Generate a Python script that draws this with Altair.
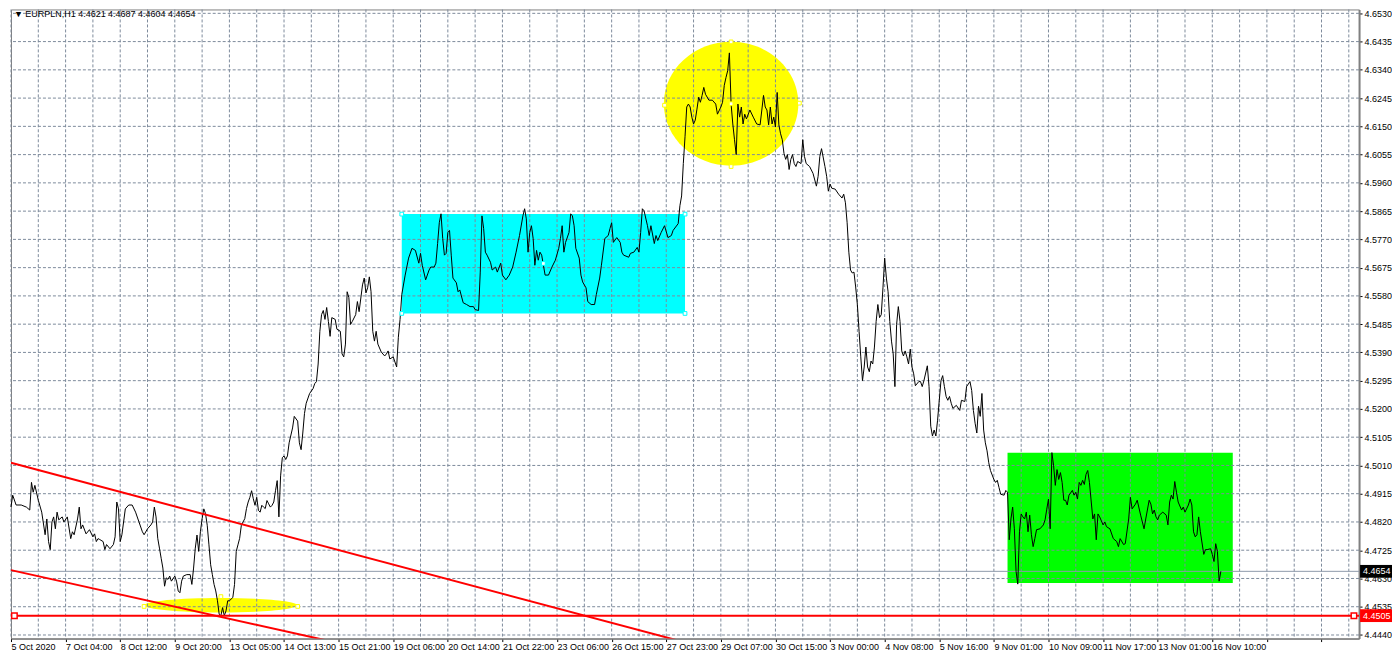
import altair as alt
import pandas as pd

# ---------------- data ----------------
bars = [0, 1, 3, 6, 9, 11, 12, 13, 14, 16, 18, 20, 21, 22, 23, 24, 25, 26, 27, 28, 30, 31, 33, 35, 36, 37, 39, 40,
        41, 42, 44, 46, 48, 49, 50, 51, 52, 54, 55, 56, 58, 60, 61, 62, 63, 64, 65, 67, 69, 71, 73, 75, 77, 78, 80,
        82, 83, 84, 85, 86, 87, 88, 89, 90, 91, 92, 93, 94, 96, 97, 98, 99, 100, 101, 103, 105, 106, 107, 108, 109,
        110, 111, 112, 113, 114, 115, 116, 117, 118, 119, 120, 121, 122, 123, 124, 125, 126, 127, 128, 130, 131,
        132, 133, 134, 135, 136, 137, 138, 139, 140, 141, 142, 143, 144, 145, 146, 147, 148, 149, 150, 151, 152,
        153, 154, 155, 156, 157, 158, 159, 160, 161, 162, 163, 165, 166, 168, 169, 170, 171, 172, 173, 175, 177,
        178, 179, 180, 181, 182, 183, 184, 185, 186, 187, 188, 190, 191, 193, 194, 195, 196, 197, 198, 199, 200,
        202, 203, 204, 206, 207, 208, 209, 210, 211, 212, 213, 214, 215, 217, 219, 220, 221, 222, 224, 226, 227,
        228, 229, 231, 233, 235, 237, 239, 240, 241, 243, 245, 246, 248, 249, 250, 251, 252, 253, 254, 255, 256,
        257, 258, 259, 261, 262, 263, 265, 267, 269, 271, 272, 274, 275, 276, 277, 278, 279, 281, 282, 284, 285,
        287, 288, 290, 292, 294, 296, 298, 300, 301, 302, 303, 304, 305, 306, 307, 308, 309, 310, 311, 313, 315,
        317, 319, 321, 322, 323, 324, 325, 327, 328, 329, 330, 331, 333, 334, 335, 337, 338, 340, 342, 343, 345,
        346, 348, 350, 351, 352, 353, 355, 357, 358, 359, 362, 363, 365, 367, 368, 369, 370, 371, 373, 374, 375,
        377, 378, 379, 381, 383, 385, 387, 388, 391, 392, 393, 394, 395, 396, 397, 398, 399, 400, 401, 402, 403,
        404, 405, 406, 407, 409, 411, 413, 414, 416, 417, 418, 419, 420, 421, 422, 423, 424, 425, 426, 427, 428,
        429, 430, 431, 433, 435, 437, 439, 441, 442, 443, 444, 445, 446, 447, 448, 449, 450, 451, 452, 453, 454,
        455, 456, 457, 458, 459, 460, 461, 463, 464, 465, 466, 468, 470, 472, 473, 474, 475, 477, 478, 479, 480,
        481, 483, 485, 487, 488, 489, 490, 491, 492, 493, 494, 495, 496, 497, 498, 499, 500, 501, 502, 503, 504,
        505, 506, 507, 508, 509, 510, 511, 512, 513, 514, 515, 516, 517, 518, 519, 520, 521, 522, 523, 524, 525,
        526, 527, 528, 529, 530, 532, 533, 534, 535, 537, 538, 539, 540, 541, 542, 543, 544, 545, 546, 547, 548,
        549, 550, 551, 552, 554, 556, 557, 559, 560, 562, 563, 564, 565, 566, 567, 568, 569, 570, 571, 572, 573,
        574, 576, 577, 578, 579, 580, 582, 583, 584, 585, 586, 587, 588, 589, 590, 591, 592, 593, 594, 595, 596,
        597, 598, 599, 600, 601, 603, 605, 606, 607, 608, 609, 610, 611, 612, 613, 614, 615, 616, 617, 618, 619,
        620, 622, 623, 624, 625, 626, 627, 628, 629, 630, 631, 632, 634, 635, 636, 637, 638, 640, 641, 642, 644,
        646, 648, 649, 650, 652, 653, 655, 656, 657, 659, 660, 662, 664, 665, 667, 668, 669, 670, 671, 672, 673,
        675, 677, 678, 679, 680, 681, 682, 683, 684, 686, 687, 688, 690, 691, 692, 693, 694, 695, 696, 697, 699,
        700, 701, 703, 704, 705, 706, 707, 708, 709]

prices = [4.4870, 4.4910, 4.4877, 4.4877, 4.4870, 4.4860, 4.4953, 4.4920, 4.4943, 4.4893, 4.4853, 4.4777, 4.4830,
          4.4754, 4.4727, 4.4820, 4.4837, 4.4797, 4.4853, 4.4827, 4.4837, 4.4820, 4.4837, 4.4764, 4.4787, 4.4777,
          4.4830, 4.4870, 4.4797, 4.4810, 4.4780, 4.4794, 4.4770, 4.4780, 4.4754, 4.4764, 4.4761, 4.4754, 4.4727,
          4.4744, 4.4730, 4.4744, 4.4770, 4.4887, 4.4864, 4.4754, 4.4777, 4.4864, 4.4877, 4.4877, 4.4853, 4.4820,
          4.4787, 4.4777, 4.4797, 4.4810, 4.4820, 4.4870, 4.4837, 4.4765, 4.4732, 4.4698, 4.4665, 4.4604, 4.4632,
          4.4627, 4.4638, 4.4621, 4.4638, 4.4621, 4.4588, 4.4582, 4.4621, 4.4638, 4.4643, 4.4643, 4.4610, 4.4665,
          4.4732, 4.4776, 4.4721, 4.4787, 4.4831, 4.4864, 4.4848, 4.4809, 4.4743, 4.4676, 4.4643, 4.4610, 4.4588,
          4.4555, 4.4510, 4.4505, 4.4532, 4.4505, 4.4521, 4.4555, 4.4555, 4.4566, 4.4610, 4.4721, 4.4743, 4.4765,
          4.4809, 4.4820, 4.4831, 4.4865, 4.4887, 4.4903, 4.4925, 4.4898, 4.4876, 4.4903, 4.4859, 4.4853, 4.4876,
          4.4870, 4.4865, 4.4892, 4.4881, 4.4870, 4.4876, 4.4887, 4.4925, 4.4959, 4.4837, 4.4975, 4.5036, 4.5042,
          4.5030, 4.5042, 4.5086, 4.5136, 4.5175, 4.5159, 4.5086, 4.5063, 4.5119, 4.5185, 4.5219, 4.5252, 4.5268,
          4.5285, 4.5292, 4.5351, 4.5461, 4.5517, 4.5531, 4.5501, 4.5541, 4.5494, 4.5444, 4.5507, 4.5501, 4.5468,
          4.5461, 4.5385, 4.5375, 4.5418, 4.5594, 4.5574, 4.5484, 4.5494, 4.5517, 4.5561, 4.5527, 4.5617, 4.5640,
          4.5590, 4.5607, 4.5644, 4.5594, 4.5461, 4.5428, 4.5461, 4.5418, 4.5391, 4.5378, 4.5385, 4.5395, 4.5368,
          4.5375, 4.5341, 4.5441, 4.5501, 4.5584, 4.5650, 4.5707, 4.5740, 4.5733, 4.5690, 4.5723, 4.5683, 4.5634,
          4.5667, 4.5677, 4.5677, 4.5690, 4.5756, 4.5826, 4.5856, 4.5773, 4.5717, 4.5723, 4.5793, 4.5800, 4.5717,
          4.5640, 4.5624, 4.5594, 4.5600, 4.5557, 4.5551, 4.5544, 4.5544, 4.5534, 4.5531, 4.5660, 4.5849, 4.5806,
          4.5727, 4.5717, 4.5693, 4.5667, 4.5677, 4.5660, 4.5690, 4.5650, 4.5634, 4.5650, 4.5677, 4.5727, 4.5783,
          4.5849, 4.5873, 4.5839, 4.5727, 4.5793, 4.5816, 4.5773, 4.5683, 4.5733, 4.5700, 4.5727, 4.5717, 4.5650,
          4.5650, 4.5677, 4.5700, 4.5740, 4.5773, 4.5816, 4.5727, 4.5760, 4.5793, 4.5856, 4.5849, 4.5816, 4.5740,
          4.5707, 4.5650, 4.5627, 4.5607, 4.5561, 4.5551, 4.5551, 4.5584, 4.5640, 4.5683, 4.5773, 4.5783, 4.5806,
          4.5826, 4.5760, 4.5776, 4.5760, 4.5727, 4.5717, 4.5710, 4.5723, 4.5727, 4.5743, 4.5727, 4.5793, 4.5873,
          4.5866, 4.5816, 4.5783, 4.5816, 4.5756, 4.5783, 4.5766, 4.5793, 4.5816, 4.5776, 4.5783, 4.5800, 4.5823,
          4.5883, 4.5916, 4.6025, 4.6115, 4.6215, 4.6225, 4.6215, 4.6181, 4.6158, 4.6171, 4.6208, 4.6248, 4.6231,
          4.6254, 4.6281, 4.6258, 4.6238, 4.6238, 4.6225, 4.6191, 4.6215, 4.6231, 4.6288, 4.6314, 4.6337, 4.6397,
          4.6225, 4.6158, 4.6105, 4.6055, 4.6225, 4.6181, 4.6215, 4.6158, 4.6191, 4.6175, 4.6205, 4.6181, 4.6158,
          4.6155, 4.6254, 4.6215, 4.6205, 4.6155, 4.6215, 4.6158, 4.6181, 4.6148, 4.6264, 4.6155, 4.6125, 4.6105,
          4.6059, 4.6039, 4.6055, 4.6005, 4.6039, 4.6055, 4.6025, 4.6015, 4.6032, 4.6025, 4.6105, 4.6049, 4.6025,
          4.6015, 4.5992, 4.5949, 4.5982, 4.6049, 4.6075, 4.6015, 4.5982, 4.5932, 4.5956, 4.5942, 4.5939, 4.5922,
          4.5909, 4.5922, 4.5893, 4.5826, 4.5727, 4.5667, 4.5657, 4.5660, 4.5610, 4.5551, 4.5461, 4.5375, 4.5295,
          4.5341, 4.5408, 4.5341, 4.5325, 4.5361, 4.5351, 4.5408, 4.5494, 4.5551, 4.5507, 4.5517, 4.5607, 4.5707,
          4.5640, 4.5594, 4.5494, 4.5428, 4.5385, 4.5275, 4.5484, 4.5544, 4.5494, 4.5395, 4.5378, 4.5395, 4.5375,
          4.5351, 4.5401, 4.5341, 4.5318, 4.5278, 4.5292, 4.5292, 4.5275, 4.5295, 4.5345, 4.5275, 4.5142, 4.5109,
          4.5129, 4.5109, 4.5162, 4.5229, 4.5295, 4.5312, 4.5275, 4.5242, 4.5229, 4.5242, 4.5219, 4.5202, 4.5212,
          4.5195, 4.5229, 4.5225, 4.5275, 4.5292, 4.5262, 4.5195, 4.5152, 4.5119, 4.5209, 4.5175, 4.5252, 4.5129,
          4.5086, 4.5059, 4.5019, 4.4993, 4.4963, 4.4953, 4.4960, 4.4936, 4.4913, 4.4910, 4.4926, 4.4920, 4.4760,
          4.4830, 4.4870, 4.4797, 4.4654, 4.4611, 4.4787, 4.4847, 4.4837, 4.4830, 4.4853, 4.4787, 4.4843, 4.4777,
          4.4737, 4.4764, 4.4794, 4.4797, 4.4810, 4.4827, 4.4863, 4.4897, 4.4797, 4.5053, 4.5009, 4.4943, 4.4996,
          4.4963, 4.4986, 4.4953, 4.4893, 4.4893, 4.4877, 4.4910, 4.4926, 4.4910, 4.4920, 4.4897, 4.4953, 4.4943,
          4.4960, 4.4946, 4.4980, 4.4993, 4.4953, 4.4830, 4.4847, 4.4760, 4.4847, 4.4837, 4.4810, 4.4820, 4.4804,
          4.4797, 4.4764, 4.4754, 4.4737, 4.4764, 4.4744, 4.4747, 4.4830, 4.4903, 4.4864, 4.4880, 4.4893, 4.4843,
          4.4797, 4.4830, 4.4893, 4.4880, 4.4847, 4.4860, 4.4837, 4.4827, 4.4843, 4.4853, 4.4843, 4.4810, 4.4887,
          4.4910, 4.4897, 4.4956, 4.4920, 4.4887, 4.4860, 4.4870, 4.4853, 4.4877, 4.4897, 4.4877, 4.4787, 4.4770,
          4.4777, 4.4837, 4.4787, 4.4711, 4.4727, 4.4727, 4.4730, 4.4711, 4.4687, 4.4747, 4.4721, 4.4621, 4.4654]

x_label_text = ["5 Oct 2020", "7 Oct 04:00", "8 Oct 12:00", "9 Oct 20:00", "13 Oct 05:00", "14 Oct 13:00",
                "15 Oct 21:00", "19 Oct 06:00", "20 Oct 14:00", "21 Oct 22:00", "23 Oct 06:00", "26 Oct 15:00",
                "27 Oct 23:00", "29 Oct 07:00", "30 Oct 15:00", "3 Nov 00:00", "4 Nov 08:00", "5 Nov 16:00",
                "9 Nov 01:00", "10 Nov 09:00", "11 Nov 17:00", "13 Nov 01:00", "16 Nov 10:00"]
x_label_step = 32      # bars between date labels
x_grid_step = 16       # bars between vertical grid lines
x_grid_values = list(range(0, 790, x_grid_step))

y_tick_values = [4.4440, 4.4535, 4.4630, 4.4725, 4.4820, 4.4915, 4.5010, 4.5105, 4.5200, 4.5295, 4.5390,
                 4.5485, 4.5580, 4.5675, 4.5770, 4.5865, 4.5960, 4.6055, 4.6150, 4.6245, 4.6340, 4.6435, 4.6530]

box_bar_start = [229, 584]
box_bar_end = [395, 716]
box_price_top = [4.5855, 4.5053]
box_price_bottom = [4.5521, 4.4615]
box_colors = ["#00FFFF", "#00FF00"]

big_ellipse_bar = [422]
big_ellipse_price = [4.6226]
small_ellipse_bar = [123]
small_ellipse_price = [4.4540]

trend_ids = ["upper", "upper", "lower", "lower"]
trend_bars = [0, 420, 0, 220]
trend_prices = [4.5019, 4.4377, 4.4658, 4.4377]

level_price = [4.4505]
bid_price = [4.4654]

handle_bars = [229, 395, 229, 395, 312, 383, 462, 422, 422, 422, 78, 168, 123]
handle_prices = [4.5855, 4.5855, 4.5521, 4.5521, 4.5689, 4.6221, 4.6228, 4.6434, 4.6015, 4.6226,
                 4.4536, 4.4536, 4.4569]
handle_colors = ["#00FFFF"] * 5 + ["#FFFF00"] * 8
level_handle_bars = [2, 787]
level_handle_prices = [4.4505, 4.4505]

tag_prices = [4.4654, 4.4505]
tag_texts = ["4.4654", "4.4505"]
tag_colors = ["#000000", "#FF0000"]

title_text = "▼ EURPLN,H1  4.4621 4.4687 4.4604 4.4654"

# ---------------- chart ----------------
W, H = 1350, 630
FONT = "Liberation Sans"
GRID = "#7d8b9c"

xscale = alt.Scale(domain=[0, 790], nice=False, zero=False)
yscale = alt.Scale(domain=[4.4428, 4.6543], nice=False, zero=False)

labels_js = "[" + ",".join("'" + s + "'" for s in x_label_text) + "]"
x_axis = alt.Axis(
    values=x_grid_values, labelExpr=labels_js + "[datum.value / " + str(x_label_step) + "] || ''",
    grid=False, ticks=True, tickSize=3,
    tickColor={"condition": {"test": "datum.value % " + str(x_label_step) + " === 0", "value": "#000000"},
               "value": "rgba(0,0,0,0)"},
    domainColor="#808080", domainWidth=1.5, labelFont=FONT, labelFontSize=9, labelColor="#000000",
    labelAlign="left", labelBaseline="top", labelPadding=1, labelFlush=False, labelOverlap=False,
    labelBound=False, title=None, orient="bottom")
y_axis = alt.Axis(
    values=y_tick_values, format=".4f", orient="right", grid=False, ticks=True, tickSize=3,
    tickColor="#000000", domainColor="#808080", domainWidth=2, labelFont=FONT, labelFontSize=9,
    labelColor="#000000", labelPadding=2, labelFlush=False, labelOverlap=False, title=None)

df_line = pd.DataFrame({"bar": bars, "price": prices})
df_box = pd.DataFrame({"b0": box_bar_start, "b1": box_bar_end, "top": box_price_top,
                       "bot": box_price_bottom, "c": box_colors})
df_big = pd.DataFrame({"bar": big_ellipse_bar, "price": big_ellipse_price})
df_small = pd.DataFrame({"bar": small_ellipse_bar, "price": small_ellipse_price})
df_trend = pd.DataFrame({"id": trend_ids, "bar": trend_bars, "price": trend_prices})
df_level = pd.DataFrame({"price": level_price})
df_bid = pd.DataFrame({"price": bid_price})
df_hgrid = pd.DataFrame({"price": y_tick_values})
df_vgrid = pd.DataFrame({"bar": x_grid_values})
df_handles = pd.DataFrame({"bar": handle_bars, "price": handle_prices, "c": handle_colors})
df_lhandles = pd.DataFrame({"bar": level_handle_bars, "price": level_handle_prices})
df_tags = pd.DataFrame({"price": tag_prices, "t": tag_texts, "c": tag_colors})
df_title = pd.DataFrame({"t": [title_text]})


def X(field):
    return alt.X(field, type="quantitative", scale=xscale, axis=x_axis)


def Y(field):
    return alt.Y(field, type="quantitative", scale=yscale, axis=y_axis)


boxes = alt.Chart(df_box).mark_rect(opacity=1).encode(
    x=X("b0"), x2="b1", y=Y("top"), y2="bot", color=alt.Color("c:N", scale=None))

big_ell = alt.Chart(df_big).mark_point(
    shape="M -1 0 A 1 0.9206 0 1 1 1 0 A 1 0.9206 0 1 1 -1 0 Z", size=18144, filled=True,
    color="#FFFF00", opacity=1, strokeWidth=0).encode(x=X("bar"), y=Y("price"))

small_ell = alt.Chart(df_small).mark_point(
    shape="M -1 0 A 1 0.0948 0 1 1 1 0 A 1 0.0948 0 1 1 -1 0 Z", size=23378, filled=True,
    color="#FFFF00", opacity=1, strokeWidth=0).encode(x=X("bar"), y=Y("price"))

hgrid = alt.Chart(df_hgrid).mark_rule(color=GRID, strokeWidth=1, strokeDash=[3, 2]).encode(y=Y("price"))
vgrid = alt.Chart(df_vgrid).mark_rule(color=GRID, strokeWidth=1, strokeDash=[3, 2]).encode(x=X("bar"))

bid = alt.Chart(df_bid).mark_rule(color="#8e9aab", strokeWidth=1).encode(y=Y("price"))

line = alt.Chart(df_line).mark_line(color="#000000", strokeWidth=1).encode(x=X("bar"), y=Y("price"))

trend = alt.Chart(df_trend).mark_line(color="#FF0000", strokeWidth=2, clip=True).encode(
    x=X("bar"), y=Y("price"), detail="id:N")

level = alt.Chart(df_level).mark_rule(color="#FF0000", strokeWidth=2).encode(y=Y("price"))

handles = alt.Chart(df_handles).mark_point(
    shape="square", size=14, filled=True, color="#FFFFFF", opacity=1, strokeWidth=1).encode(
    x=X("bar"), y=Y("price"), stroke=alt.Stroke("c:N", scale=None))

lhandles = alt.Chart(df_lhandles).mark_point(
    shape="square", size=30, filled=True, color="#FFFFFF", opacity=1, strokeWidth=1.5,
    stroke="#FF0000").encode(x=X("bar"), y=Y("price"))

tag_box = alt.Chart(df_tags).mark_point(
    shape="M 0 -0.4 L 2 -0.4 L 2 0.4 L 0 0.4 Z", size=1024, filled=True, opacity=1,
    strokeWidth=0).encode(x=alt.value(W + 1), y=Y("price"), color=alt.Color("c:N", scale=None))

tag_text = alt.Chart(df_tags).mark_text(
    align="left", baseline="middle", font=FONT, fontSize=9, color="#FFFFFF").encode(
    x=alt.value(W + 4), y=Y("price"), text="t:N")

title = alt.Chart(df_title).mark_text(
    align="left", baseline="middle", font=FONT, fontSize=9, color="#000000").encode(
    x=alt.value(3), y=alt.value(5), text="t:N")

chart = alt.layer(
    boxes, big_ell, small_ell, hgrid, vgrid, bid, line, trend, level, handles, lhandles,
    tag_box, tag_text, title
).properties(
    width=W, height=H, background="#FFFFFF",
    padding={"left": 0, "top": 0, "right": 0, "bottom": 0}
).configure(
    padding={"left": 0, "top": 0, "right": 0, "bottom": 0}
).configure_view(stroke="#808080", strokeWidth=1)

chart.save("out.html", embed_options={"renderer": "svg", "actions": False})
